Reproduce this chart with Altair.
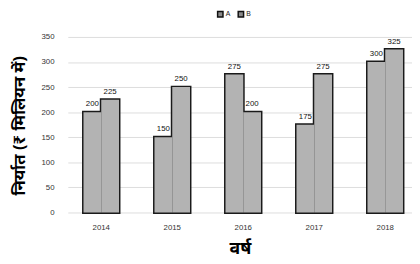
import altair as alt
import pandas as pd

years = ["2014", "2015", "2016", "2017", "2018"]
series_a = [200, 150, 275, 175, 300]
series_b = [225, 250, 200, 275, 325]
y_ticks = [0, 50, 100, 150, 200, 250, 300, 350]

rows = []
for yr, va, vb in zip(years, series_a, series_b):
    rows.append({"year": yr, "series": "A", "value": va})
    rows.append({"year": yr, "series": "B", "value": vb})
df = pd.DataFrame(rows)

FONT = "Liberation Sans"
DEV = "Noto Sans"
FILL = "#b3b3b3"

x_enc = alt.X("year:N", sort=years,
              scale=alt.Scale(paddingInner=0.5, paddingOuter=0.174, align=0.635),
              axis=alt.Axis(title="वर्ष", labelAngle=0, ticks=False, domain=False,
                            labelFont=FONT, labelFontSize=8, labelColor="#333",
                            labelPadding=11, titleFont=DEV, titleFontSize=18,
                            titleFontWeight="bold", titleColor="#000", titlePadding=9))
xoff = alt.XOffset("series:N", scale=alt.Scale(paddingInner=0, paddingOuter=0))
y_enc = alt.Y("value:Q", scale=alt.Scale(domain=[0, 350]),
              axis=alt.Axis(title="निर्यात (₹ मिलियन में)", values=y_ticks, ticks=False,
                            domain=False, labelFont=FONT, labelFontSize=8, labelColor="#333",
                            labelPadding=14, gridColor="#dcdcdc", gridWidth=1,
                            labelOverlap=False,
                            titleFont=DEV, titleFontSize=17, titleFontWeight="bold",
                            titleColor="#000", titleX=-40, titleY=90))

legend = alt.Legend(title=None, orient="none", legendX=152, legendY=-27,
                    direction="horizontal", symbolType="square",
                    symbolSize=30, symbolStrokeColor="#111",
                    symbolStrokeWidth=1.5, labelFont=FONT,
                    labelFontSize=7, labelColor="#222",
                    columnPadding=4, symbolOffset=0, labelOffset=2)

color_enc = alt.Color("series:N", scale=alt.Scale(domain=["A", "B"], range=["#8a8a8a", "#8a8a8a"]),
                      legend=legend)

outline = alt.Chart(df).mark_bar(stroke="#1a1a1a", strokeWidth=3, color=FILL).encode(
    x=x_enc, xOffset=xoff, y=y_enc, color=color_enc,
)

fill = alt.Chart(df).mark_bar(color=FILL, strokeWidth=0).encode(
    x=x_enc, xOffset=xoff, y=y_enc,
)

labels = alt.Chart(df).mark_text(dy=-8, font=FONT, fontSize=8, color="#111").encode(
    x=x_enc, xOffset=xoff, y=y_enc, text="value:Q"
)

chart = (outline + fill + labels).properties(
    width=351, height=179,
    autosize=alt.AutoSizeParams(type="none"),
    padding={"left": 61, "top": 27, "right": 0, "bottom": 50},
).configure_view(stroke=None)

chart.save("out.html", embed_options={"renderer": "svg", "actions": False})
